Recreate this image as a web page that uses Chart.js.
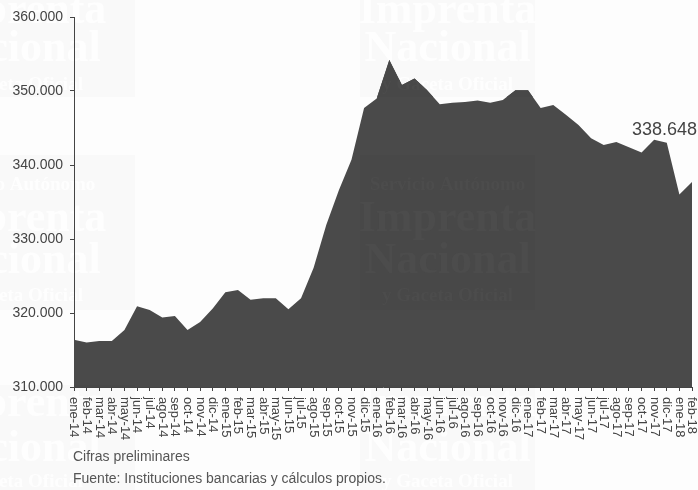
<!DOCTYPE html>
<html>
<head>
<meta charset="utf-8">
<style>
  html, body { margin: 0; padding: 0; background: #fdfdfd; }
  canvas { display: block; }
</style>
<script src="https://cdn.jsdelivr.net/npm/chart.js@4"></script>
</head>
<body>
<canvas id="chart" width="698" height="490"></canvas>
<script>
const months = [
  'ene-14', 'feb-14', 'mar-14', 'abr-14', 'may-14', 'jun-14', 'jul-14', 'ago-14', 'sep-14', 'oct-14', 'nov-14', 'dic-14',
  'ene-15', 'feb-15', 'mar-15', 'abr-15', 'may-15', 'jun-15', 'jul-15', 'ago-15', 'sep-15', 'oct-15', 'nov-15', 'dic-15',
  'ene-16', 'feb-16', 'mar-16', 'abr-16', 'may-16', 'jun-16', 'jul-16', 'ago-16', 'sep-16', 'oct-16', 'nov-16', 'dic-16',
  'ene-17', 'feb-17', 'mar-17', 'abr-17', 'may-17', 'jun-17', 'jul-17', 'ago-17', 'sep-17', 'oct-17', 'nov-17', 'dic-17',
  'ene-18', 'feb-18',
];
const values = [
  316400, 316000, 316200, 316200, 317700, 320900, 320400, 319400, 319600, 317700, 318800, 320600,
  322800, 323100, 321800, 322000, 322000, 320500, 322000, 326100, 331900, 336600, 340700, 347700,
  349000, 354200, 350800, 351700, 350100, 348200, 348400, 348500, 348700, 348400, 348800, 350100,
  350100, 347700, 348100, 346800, 345400, 343600, 342700, 343100, 342400, 341700, 343400, 343000,
  336000, 337700,
];
const lastLabel = '338.648';
const footnotes = ['Cifras preliminares', 'Fuente: Instituciones bancarias y cálculos propios.'];
const watermarkBlocks = [
  ['Imprenta', 'Nacional', 'y Gaceta Oficial'],
  ['Servicio Autónomo', 'Imprenta', 'Nacional', 'y Gaceta Oficial'],
];

function drawWatermark(ctx, textColor, blockColor) {
  const columns = [[-100, 135], [360, 175]];
  const rows = [
    [0, 97, watermarkBlocks[0], [12, 50, 85]],
    [155, 155, watermarkBlocks[1], [185, 220, 262, 296]],
    [385, 105, watermarkBlocks[0], [405, 450, 482]],
  ];
  ctx.save();
  ctx.textAlign = 'center';
  ctx.textBaseline = 'middle';
  columns.forEach(([bx, bw]) => {
    rows.forEach(([by, bh, lines, ys]) => {
      if (blockColor) {
        ctx.fillStyle = blockColor;
        ctx.fillRect(bx, by, bw + (bx < 0 ? 100 : 0), bh);
      }
      ctx.fillStyle = textColor;
      lines.forEach((line, i) => {
        const small = line.length > 8;
        ctx.font = (small ? '700 19px' : '700 44px') + ' "Liberation Serif", serif';
        ctx.fillText(line, bx + bw / 2 + (bx < 0 ? 50 : 0), ys[i]);
      });
    });
  });
  ctx.restore();
}

const paperPlugin = {
  id: 'paper',
  beforeDraw(chart) {
    const ctx = chart.ctx;
    ctx.save();
    ctx.fillStyle = '#fdfdfd';
    ctx.fillRect(0, 0, chart.width, chart.height);
    ctx.restore();
    drawWatermark(ctx, '#fefefe', '#f9f9f9');
  },
  afterDatasetsDraw(chart) {
    // same watermark showing through the area, clipped to the drawn series
    const ctx = chart.ctx;
    const points = chart.getDatasetMeta(0).data;
    const base = chart.scales.y.bottom;
    ctx.save();
    ctx.beginPath();
    ctx.moveTo(points[0].x, base);
    points.forEach((p) => ctx.lineTo(p.x, p.y));
    ctx.lineTo(points[points.length - 1].x, base);
    ctx.closePath();
    ctx.clip();
    drawWatermark(ctx, '#4c4c4c', '#484848');
    ctx.restore();
  },
};

// x labels read top to bottom, Chart.js only rotates them the other way
const labelsPlugin = {
  id: 'labels',
  afterDraw(chart) {
    const ctx = chart.ctx;
    const x = chart.scales.x;
    const y = chart.scales.y;
    ctx.save();
    ctx.fillStyle = '#444444';
    ctx.font = '13px "Liberation Sans", Arial, sans-serif';
    ctx.textBaseline = 'middle';
    months.forEach((m, i) => {
      ctx.save();
      ctx.translate(x.getPixelForValue(i), 397);
      ctx.rotate(Math.PI / 2);
      ctx.fillText(m, 0, 0);
      ctx.restore();
    });
    ctx.textBaseline = 'alphabetic';
    ctx.fillStyle = '#555555';
    ctx.font = '14px "Liberation Sans", Arial, sans-serif';
    ctx.fillText(footnotes[0], 73, 461);
    ctx.fillText(footnotes[1], 73, 483);
    ctx.fillStyle = '#444444';
    ctx.font = '18px "Liberation Sans", Arial, sans-serif';
    ctx.textAlign = 'right';
    ctx.fillText(lastLabel, 697, y.getPixelForValue(values[values.length - 1]) - 47);
    ctx.restore();
  },
};

new Chart(document.getElementById('chart'), {
  type: 'line',
  data: {
    labels: months,
    datasets: [{
      data: values,
      borderWidth: 0,
      backgroundColor: '#4a4a4a',
      fill: 'origin',
      pointRadius: 0,
      tension: 0,
    }],
  },
  options: {
    responsive: false,
    animation: false,
    layout: { padding: { top: 17, right: 6, left: 0, bottom: 0 } },
    plugins: { legend: { display: false }, tooltip: { enabled: false } },
    scales: {
      x: {
        offset: false,
        afterFit: (scale) => { scale.height = 103; },
        border: { display: true, color: '#444444', width: 1 },
        grid: { drawOnChartArea: false, drawTicks: true, tickLength: 4, color: '#444444' },
        ticks: { display: false, autoSkip: false },
      },
      y: {
        min: 310000,
        max: 360000,
        afterFit: (scale) => { scale.width = 74; },
        border: { display: true, color: '#444444', width: 1 },
        grid: { drawOnChartArea: false, drawTicks: true, tickLength: 4, color: '#444444' },
        ticks: {
          stepSize: 10000,
          padding: 7,
          color: '#444444',
          font: { family: '"Liberation Sans", Arial, sans-serif', size: 14 },
          callback: (v) => (v / 1000) + '.000',
        },
      },
    },
  },
  plugins: [paperPlugin, labelsPlugin],
});
</script>
</body>
</html>
